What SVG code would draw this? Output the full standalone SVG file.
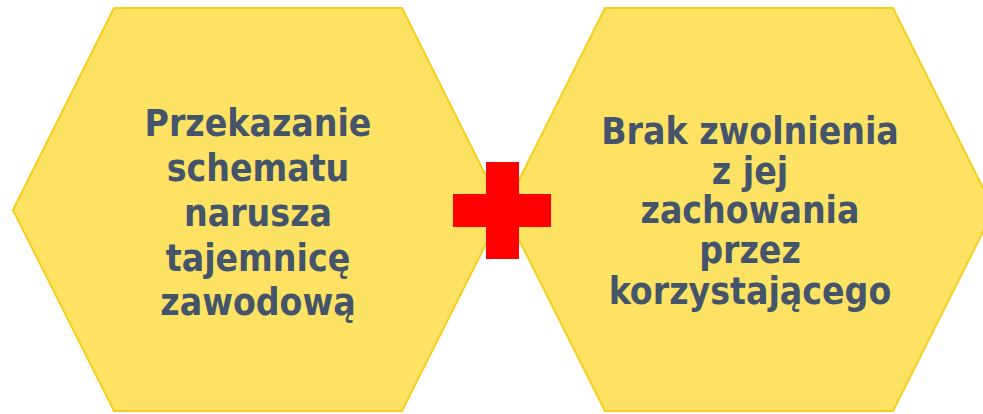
<svg xmlns="http://www.w3.org/2000/svg" width="983" height="414" viewBox="0 0 983 414">
<style>
.hex{fill:#FDE263;stroke:#F5CF1E;stroke-width:2}
.lbl{font-family:"DejaVu Sans Condensed","DejaVu Sans",sans-serif;font-stretch:condensed;font-weight:bold;font-size:37px;fill:#44546A;text-anchor:middle}
.plus{fill:#FF0000}
</style>
<rect width="983" height="414" fill="#FFFFFF"/>
<g id="node-left">
<polygon class="hex" points="13,210 114,8 402,8 503,210 402,411 114,411"/>
<text class="lbl"><tspan x="258" y="136">Przekazanie</tspan><tspan x="258" y="181">schematu</tspan><tspan x="258" y="226">narusza</tspan><tspan x="258" y="271">tajemnicę</tspan><tspan x="258" y="315">zawodową</tspan></text>
</g>
<g id="node-right">
<polygon class="hex" points="504,210 605,8 893,8 994,210 893,411 605,411"/>
<text class="lbl"><tspan x="750" y="144">Brak zwolnienia</tspan><tspan x="750" y="184">z jej</tspan><tspan x="750" y="223">zachowania</tspan><tspan x="750" y="263">przez</tspan><tspan x="750" y="304">korzystającego</tspan></text>
</g>
<g id="node-plus">
<path class="plus" d="M486,162 H519 V194 H551 V227 H519 V259 H486 V227 H453 V194 H486 Z"/>
</g>
<g id="connectors"></g>
</svg>
